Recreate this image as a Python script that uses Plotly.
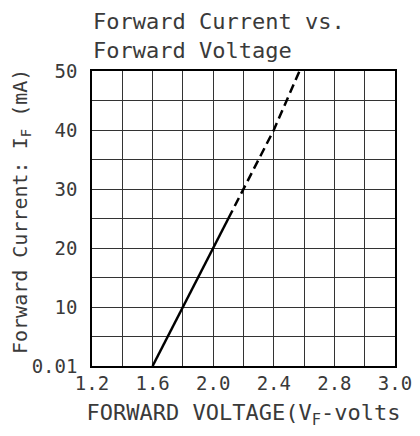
import plotly.graph_objects as go

# Data
v_solid = [1.6, 1.8, 2.0, 2.1]
i_solid = [0, 10, 20, 25]
v_dash = [2.1, 2.2, 2.4, 2.57]
i_dash = [25, 30, 40, 50]

x_tickvals = [1.2, 1.4, 1.6, 1.8, 2.0, 2.2, 2.4, 2.6, 2.8, 3.0, 3.2]
x_ticktext = ["1.2", "", "1.6", "", "2.0", "", "2.4", "", "2.8", "", "3.0"]
y_tickvals = [0, 5, 10, 15, 20, 25, 30, 35, 40, 45, 50]
y_ticktext = ["0.01", "", "10", "", "20", "", "30", "", "40", "", "50"]

title_text = "Forward Current vs.<br>Forward Voltage"
x_title = "FORWARD VOLTAGE(V<sub>F</sub>-volts"
y_title = "Forward Current: I<sub>F</sub> (mA)"

FONT = "DejaVu Sans Mono"
TXT = "#3a3a3a"

fig = go.Figure()
fig.add_trace(go.Scatter(x=v_solid, y=i_solid, mode="lines",
                         line=dict(color="black", width=2.5), showlegend=False))
fig.add_trace(go.Scatter(x=v_dash, y=i_dash, mode="lines",
                         line=dict(color="black", width=2.5, dash="9px,5px"), showlegend=False))

# page body has an 8px default margin, so the figure is sized to fit the window
fig.update_layout(
    width=412, height=428,
    margin=dict(l=84, r=25, t=63, b=70),
    paper_bgcolor="white", plot_bgcolor="white",
    font=dict(family=FONT, color=TXT),
)
fig.add_annotation(text=title_text, xref="paper", yref="paper",
                   x=0.0, y=1 + 63 / 295, xanchor="left", yanchor="top",
                   align="left", showarrow=False, borderpad=0,
                   font=dict(family=FONT, size=22, color=TXT))
fig.add_annotation(text=y_title, xref="paper", yref="paper",
                   x=(13 - 84) / 303, y=1 - (204 - 63) / 295,
                   xanchor="center", yanchor="middle", textangle=-90,
                   showarrow=False, borderpad=0,
                   font=dict(family=FONT, size=20, color=TXT))

fig.update_xaxes(range=[1.2, 3.2], tickvals=x_tickvals, ticktext=x_ticktext,
                 showgrid=True, gridcolor="#333", gridwidth=1,
                 showline=True, linecolor="black", linewidth=1.5, mirror=True,
                 ticks="", ticklabelstandoff=-1, automargin=False,
                 tickfont=dict(family=FONT, size=19, color=TXT),
                 title=dict(text=x_title,
                            font=dict(family=FONT, size=22, color=TXT), standoff=12),
                 zeroline=False)
fig.update_yaxes(range=[0, 50], tickvals=y_tickvals, ticktext=y_ticktext,
                 showgrid=True, gridcolor="#333", gridwidth=1,
                 showline=True, linecolor="black", linewidth=1.5, mirror=True,
                 ticks="", ticklabelstandoff=9, automargin=False,
                 tickfont=dict(family=FONT, size=19, color=TXT),
                 zeroline=False)

fig.write_html("out.html")
